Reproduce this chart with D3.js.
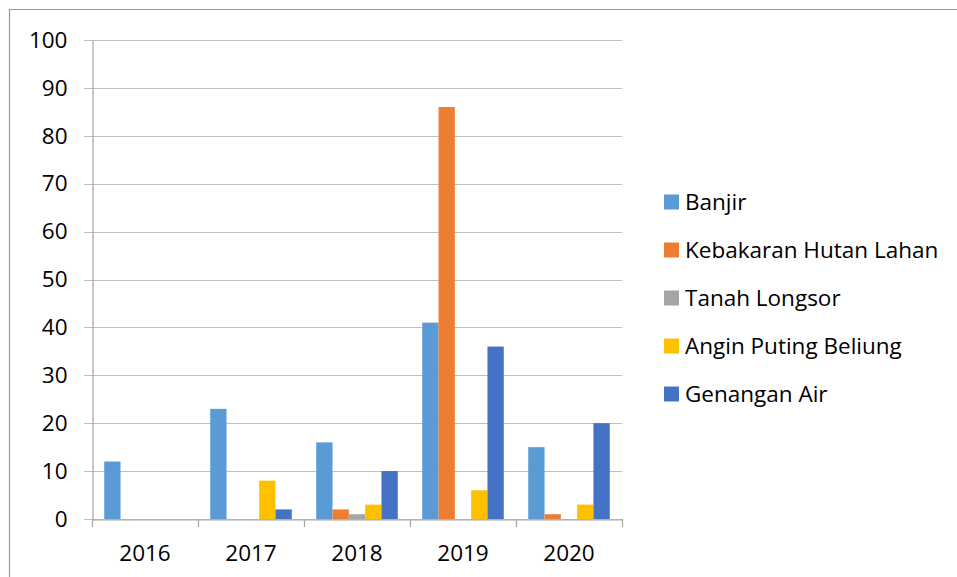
<!DOCTYPE html>
<html><head><meta charset="utf-8">
<script src="https://cdn.jsdelivr.net/npm/d3@7/dist/d3.min.js"></script>
<style>body{margin:0;background:#fff}svg{display:block}text{font-family:"Open Sans","Noto Sans",sans-serif;fill:#000}</style>
</head><body><svg id="c" width="957" height="577"></svg>
<script>
const categories = ["2016","2017","2018","2019","2020"];
const seriesNames = ["Banjir","Kebakaran Hutan Lahan","Tanah Longsor","Angin Puting Beliung","Genangan Air"];
const banjir = [12,23,16,41,15];
const kebakaran = [0,0,2,86,1];
const tanahLongsor = [0,0,1,0,0];
const anginPuting = [0,8,3,6,3];
const genanganAir = [0,2,10,36,20];
const colors = ["#5B9BD5","#ED7D31","#A5A5A5","#FFC000","#4472C4"];
const yTicks = [0,10,20,30,40,50,60,70,80,90,100];

const series = [banjir,kebakaran,tanahLongsor,anginPuting,genanganAir];
const svg = d3.select("#c");
const fs = 22.5;
const ff = '"Open Sans","Noto Sans",sans-serif';
// outer frame
svg.append("path").attr("d","M9.5,580 V9.5 H960").attr("fill","none").attr("stroke","#9a9a9a").attr("stroke-width",1.2);

const x = d3.scaleBand().domain(categories).range([92,622]).paddingInner(0).paddingOuter(0);
const xs = d3.scaleBand().domain(seriesNames).range([0,x.bandwidth()]).paddingInner(0).paddingOuter(0.75);
const y = d3.scaleLinear().domain([0,100]).range([519,40]);

// gridlines
svg.append("g").selectAll("line").data(yTicks).join("line")
  .attr("x1",84).attr("x2",622).attr("y1",d=>Math.round(y(d))+0.5).attr("y2",d=>Math.round(y(d))+0.5)
  .attr("stroke","#BFBFBF").attr("stroke-width",1.2);

// bars
series.forEach((vals,si)=>{
  svg.append("g").selectAll("rect").data(vals.map((v,i)=>({c:categories[i],v}))).join("rect")
    .attr("x",d=>x(d.c)+xs(seriesNames[si])).attr("width",xs.bandwidth())
    .attr("y",d=>y(d.v)).attr("height",d=>y(0)-y(d.v)).attr("fill",colors[si]);
});

// y axis
const yAxis = svg.append("g").attr("transform","translate(92.5,0)").call(d3.axisLeft(y).tickValues(yTicks).tickSize(0).tickPadding(25));
yAxis.select(".domain").attr("stroke","#A6A6A6").attr("stroke-width",1.2);
yAxis.selectAll("text").style("font-size",fs+"px").style("font-family",ff).attr("fill","#000");

// x axis
const xAxis = svg.append("g").attr("transform","translate(0,519.5)").call(d3.axisBottom(x).tickSize(0).tickPadding(26));
xAxis.select(".domain").attr("stroke","#A6A6A6").attr("stroke-width",1.2);
xAxis.selectAll("text").style("font-size",fs+"px").style("font-family",ff).attr("fill","#000");
// category boundary ticks
const bounds = categories.map(c=>x(c)).concat([x(categories[categories.length-1])+x.bandwidth()]);
svg.append("g").selectAll("line").data(bounds).join("line")
  .attr("x1",d=>Math.round(d)+0.5).attr("x2",d=>Math.round(d)+0.5).attr("y1",519).attr("y2",527)
  .attr("stroke","#A6A6A6").attr("stroke-width",1.2);

// legend
const lg = svg.append("g").attr("transform","translate(664,202)");
const li = lg.selectAll("g").data(seriesNames).join("g").attr("transform",(d,i)=>`translate(0,${i*48})`);
li.append("rect").attr("x",0).attr("y",-7.5).attr("width",15).attr("height",15).attr("fill",(d,i)=>colors[i]);
li.append("text").attr("x",21).attr("y",0).attr("dy","0.35em").style("font-size",fs+"px").style("font-family",ff).text(d=>d);
</script></body></html>
